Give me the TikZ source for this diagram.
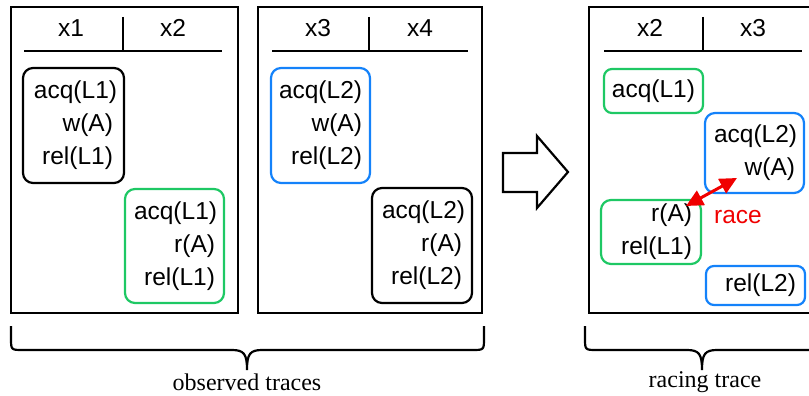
\documentclass[tikz,border=0pt]{standalone}
\usepackage{fontspec}
\setmainfont{Liberation Serif}
\newfontfamily\arialf{Liberation Sans}
\usetikzlibrary{arrows.meta}
\definecolor{evgreen}{RGB}{30,200,100}
\definecolor{evblue}{RGB}{20,130,250}
\definecolor{evred}{RGB}{240,0,0}
\begin{document}
\begin{tikzpicture}[x=1pt,y=-1pt,
  frame/.style={draw=black,line width=2.2pt,inner sep=0pt,minimum height=306pt},
  hdr/.style={font=\arialf\fontsize{24.5}{33}\selectfont,inner sep=0pt,anchor=base},
  hline/.style={line width=2.2pt},
  evbox/.style={draw,line width=2.2pt,rounded corners=10pt,inner sep=0pt,align=right,
     font=\arialf\fontsize{24.5}{33}\selectfont},
  bracepath/.style={line width=2.2pt},
  captxt/.style={font=\fontsize{24}{28}\selectfont,inner sep=0pt,anchor=base},
  racetip/.tip={Triangle[length=17pt,width=16pt]}]
\useasboundingbox (0,0) rectangle (809,396);
\begin{scope}
\clip (0,0) rectangle (809,396);
% frames
\node[frame,minimum width=227pt] (f1) at (124.5,160) {};
\node[frame,minimum width=224pt] (f2) at (370,160) {};
\node[frame,minimum width=228pt] (f3) at (703,160) {};
% headers
\draw[hline] (24,51) -- (222,51) (123,17) -- (123,51);
\draw[hline] (272,51) -- (468,51) (369,17) -- (369,51);
\draw[hline] (604,51) -- (802,51) (703,17) -- (703,51);
\node[hdr] (h1) at (71,37) {x1};
\node[hdr] (h2) at (173,37) {x2};
\node[hdr] (h3) at (318,37) {x3};
\node[hdr] (h4) at (420,37) {x4};
\node[hdr] (h5) at (650,37) {x2};
\node[hdr] (h6) at (753,37) {x3};
% observed trace boxes
\node[evbox,draw=black,minimum width=101pt,minimum height=115pt,text width=79pt] (b1) at (73.5,125.5) {acq(L1)\\w(A)\\rel(L1)};
\node[evbox,draw=evgreen,minimum width=99pt,minimum height=114pt,text width=81pt] (b2) at (174.5,246) {acq(L1)\\r(A)\\rel(L1)};
\node[evbox,draw=evblue,minimum width=99pt,minimum height=115pt,text width=83pt] (b3) at (320.5,125.5) {acq(L2)\\w(A)\\rel(L2)};
\node[evbox,draw=black,minimum width=100pt,minimum height=115pt,text width=80pt] (b4) at (422,245.5) {acq(L2)\\r(A)\\rel(L2)};
% racing trace boxes
\node[evbox,draw=evgreen,rounded corners=8pt,minimum width=99pt,minimum height=44pt,align=center] (b5) at (653.5,91) {acq(L1)};
\node[evbox,draw=evblue,minimum width=99pt,minimum height=80pt,text width=81pt] (b6) at (754.5,153) {acq(L2)\\w(A)};
\node[evbox,draw=evgreen,minimum width=100pt,minimum height=64pt,text width=82pt] (b7) at (651,232) {r(A)\\rel(L1)};
\node[evbox,draw=evblue,rounded corners=8pt,minimum width=99pt,minimum height=39pt,text width=81pt] (b8) at (755.5,285.5) {rel(L2)};
% race arrow
\coordinate (ra) at (686,206);
\coordinate (rb) at (737,178);
\draw[evred,line width=3pt,racetip-racetip] (ra) -- (rb);
\node[font=\arialf\fontsize{24.5}{28}\selectfont,text=evred,inner sep=0pt,anchor=base] (race) at (738,223) {race};
% big hollow arrow
\draw[line width=2.2pt,line join=miter] (503,153) -- (537,153) -- (537,136) -- (568,172) -- (537,208) -- (537,192) -- (503,192) -- cycle;
% braces
\draw[bracepath] (11,326) -- (11,338) .. controls (11,350) .. (23,350) -- (232,350)
   .. controls (244,350) and (247,354) .. (247,370)
   .. controls (247,354) and (250,350) .. (262,350) -- (472,350)
   .. controls (484,350) .. (484,338) -- (484,326);
\draw[bracepath] (585,326) -- (585,338) .. controls (585,350) .. (597,350) -- (687,350)
   .. controls (699,350) and (702,354) .. (702,370)
   .. controls (702,354) and (705,350) .. (717,350) -- (807,350)
   .. controls (819,350) .. (819,338) -- (819,326);
\node[captxt] (c1) at (247,390) {observed traces};
\node[captxt] (c2) at (705,387) {racing trace};
\end{scope}
\end{tikzpicture}
\end{document}
